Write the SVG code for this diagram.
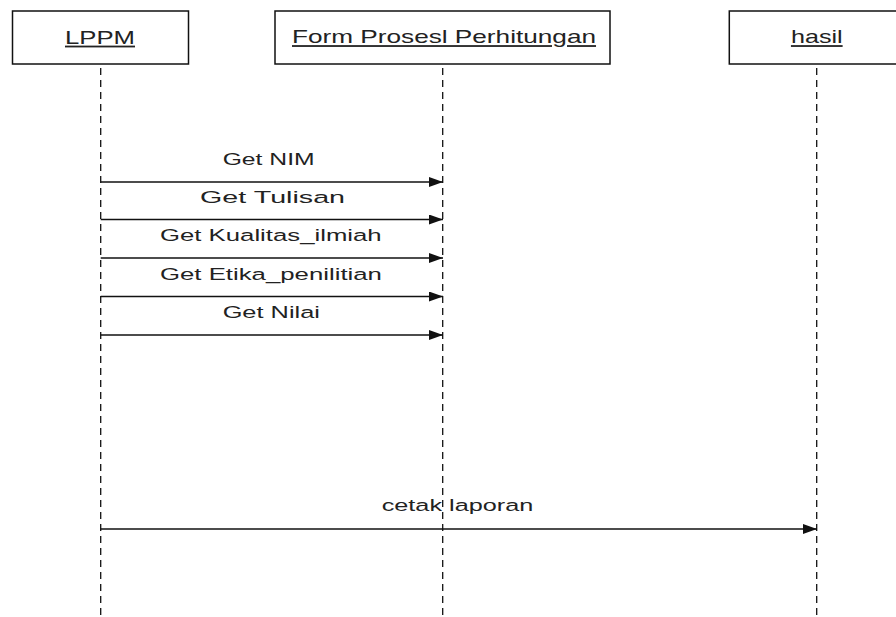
<svg xmlns="http://www.w3.org/2000/svg" width="896" height="617" viewBox="0 0 896 617">
<defs>
<marker id="arr" viewBox="0 0 14 10" refX="14" refY="5" markerWidth="14" markerHeight="10" markerUnits="userSpaceOnUse" orient="auto">
<path d="M0,0 L14,5 L0,10 Z" fill="#111"/>
</marker>
<style>
.box{fill:#fff;stroke:#111;stroke-width:1.5}
.life{stroke:#111;stroke-width:1.3;stroke-dasharray:7 5;fill:none}
.msg{stroke:#111;stroke-width:1.5;fill:none}
.hd{font-family:"Liberation Sans",Arial,sans-serif;font-size:18px;fill:#222;text-decoration:underline}
.lb{font-family:"Liberation Sans",Arial,sans-serif;font-size:17px;fill:#222}
</style>
</defs>
<rect width="896" height="617" fill="#fff"/>
<g id="lppm">
<rect class="box" x="12.5" y="11" width="176" height="53"/>
<text class="hd" transform="scale(1.43,1)" x="45.45" y="44" textLength="48.95" lengthAdjust="spacingAndGlyphs">LPPM</text>
<line class="life" x1="100.7" y1="68" x2="100.7" y2="617"/>
</g>
<g id="form">
<rect class="box" x="275" y="11" width="335" height="53"/>
<text class="hd" transform="scale(1.43,1)" x="204.2" y="43.5" textLength="212.6" lengthAdjust="spacingAndGlyphs">Form Prosesl Perhitungan</text>
<line class="life" x1="442.7" y1="68" x2="442.7" y2="617"/>
</g>
<g id="hasil">
<rect class="box" x="729.3" y="11" width="180" height="53"/>
<text class="hd" transform="scale(1.43,1)" x="553.1" y="43.5" textLength="36.15" lengthAdjust="spacingAndGlyphs">hasil</text>
<line class="life" x1="816.7" y1="68" x2="816.7" y2="617"/>
</g>
<g id="connectors">
<line class="msg" x1="100.7" y1="182" x2="443" y2="182" marker-end="url(#arr)"/>
<line class="msg" x1="100.7" y1="219.5" x2="443" y2="219.5" marker-end="url(#arr)"/>
<line class="msg" x1="100.7" y1="258" x2="443" y2="258" marker-end="url(#arr)"/>
<line class="msg" x1="100.7" y1="296.5" x2="443" y2="296.5" marker-end="url(#arr)"/>
<line class="msg" x1="100.7" y1="335" x2="443" y2="335" marker-end="url(#arr)"/>
<line class="msg" x1="100.7" y1="529" x2="817" y2="529" marker-end="url(#arr)"/>
<text class="lb" transform="scale(1.43,1)" x="155.7" y="165" textLength="64.3" lengthAdjust="spacingAndGlyphs">Get NIM</text>
<text class="lb" transform="scale(1.43,1)" x="139.9" y="203" textLength="101.4" lengthAdjust="spacingAndGlyphs">Get Tulisan</text>
<text class="lb" transform="scale(1.43,1)" x="111.9" y="241.5" textLength="155.0" lengthAdjust="spacingAndGlyphs">Get Kualitas_ilmiah</text>
<text class="lb" transform="scale(1.43,1)" x="111.9" y="280" textLength="155.2" lengthAdjust="spacingAndGlyphs">Get Etika_penilitian</text>
<text class="lb" transform="scale(1.43,1)" x="155.7" y="318.3" textLength="68.0" lengthAdjust="spacingAndGlyphs">Get Nilai</text>
<text class="lb" transform="scale(1.43,1)" x="266.9" y="510.7" textLength="106.1" lengthAdjust="spacingAndGlyphs">cetak laporan</text>
</g>
</svg>
